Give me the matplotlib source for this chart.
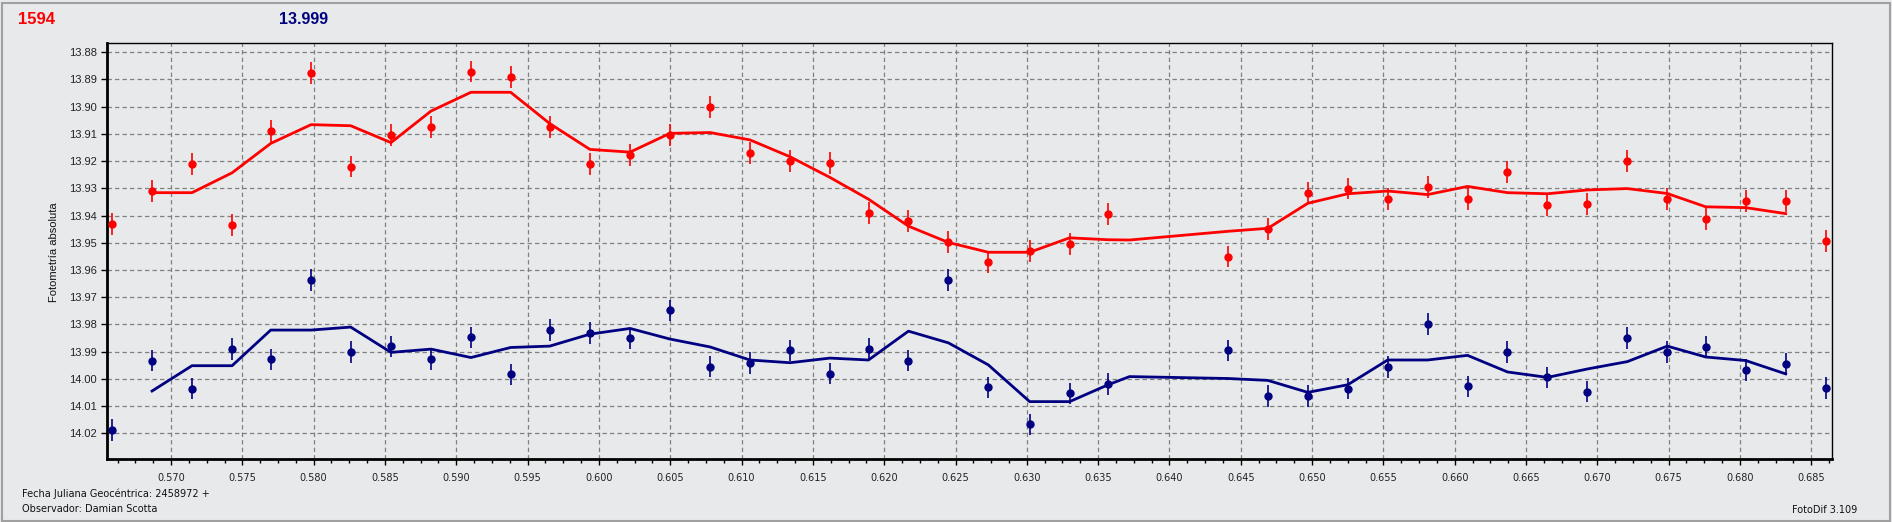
import numpy as np
import matplotlib
matplotlib.use("Agg")
import matplotlib.pyplot as plt
from matplotlib.ticker import MultipleLocator, FormatStrFormatter
from matplotlib.patches import Rectangle

# fechas (JD - 2458972) de cada punto
jd = [0.56584, 0.56867, 0.57147, 0.57428, 0.57699, 0.57982, 0.58260, 0.58542,
      0.58823, 0.59103, 0.59381, 0.59655, 0.59937, 0.60218, 0.60498, 0.60779,
      0.61059, 0.61340, 0.61620, 0.61890, 0.62170, 0.62450, 0.62730, 0.63020,
      0.63300, 0.63570, 0.64410, 0.64690, 0.64970, 0.65250, 0.65530, 0.65810,
      0.66090, 0.66370, 0.66650, 0.66930, 0.67210, 0.67490, 0.67760, 0.68040,
      0.68320, 0.68600]

# variable (rojo)
mag_var = [13.943, 13.931, 13.921, 13.9434, 13.9088, 13.8876, 13.922, 13.9104,
           13.9074, 13.8871, 13.889, 13.9076, 13.921, 13.9178, 13.9105, 13.900,
           13.9169, 13.9199, 13.9206, 13.939, 13.942, 13.9496, 13.957, 13.9531,
           13.9506, 13.9393, 13.9551, 13.9449, 13.9316, 13.9301, 13.9338, 13.9294,
           13.9338, 13.9239, 13.936, 13.9357, 13.9199, 13.9338, 13.9412, 13.9346,
           13.9346, 13.9493]

# comparacion (azul)
mag_cmp = [14.0188, 13.9933, 14.0036, 13.989, 13.9929, 13.9636, 13.9903, 13.9881,
           13.9929, 13.9848, 13.9984, 13.9822, 13.9833, 13.9852, 13.9749, 13.9955,
           13.9942, 13.9896, 13.9981, 13.9892, 13.9933, 13.9638, 14.0032, 14.0168,
           14.0054, 14.002, 13.9896, 14.0062, 14.0062, 14.0036, 13.9958, 13.980,
           14.0028, 13.9903, 13.9995, 14.0047, 13.9849, 13.9902, 13.9884, 13.9968,
           13.9946, 14.0035]

err_var = 0.004
err_cmp = 0.004

# curvas suavizadas
jd_smooth = [0.56867, 0.57147, 0.57428, 0.57699, 0.57982, 0.58260, 0.58542,
             0.58823, 0.59103, 0.59381, 0.59655, 0.59937, 0.60218, 0.60498,
             0.60779, 0.61059, 0.61340, 0.61620, 0.61890, 0.62170, 0.62450,
             0.62730, 0.63020, 0.63300, 0.63570, 0.63720, 0.64410, 0.64690,
             0.64970, 0.65250, 0.65530, 0.65810, 0.66090, 0.66370, 0.66650,
             0.66930, 0.67210, 0.67490, 0.67760, 0.68040, 0.68320]
smooth_var = [13.9316, 13.9316, 13.9243, 13.9135, 13.9066, 13.9070, 13.9132,
              13.9016, 13.8947, 13.8947, 13.9062, 13.9157, 13.9167, 13.9098,
              13.9095, 13.9122, 13.9184, 13.9260, 13.9340, 13.9439, 13.9499,
              13.9535, 13.9535, 13.9482, 13.9489, 13.9490, 13.9458, 13.9447,
              13.9355, 13.9320, 13.9310, 13.9323, 13.9293, 13.9316, 13.9320,
              13.9306, 13.9301, 13.9319, 13.9368, 13.9371, 13.9393]
smooth_cmp = [14.0045, 13.9952, 13.9952, 13.9821, 13.9821, 13.9810, 13.9903,
              13.9891, 13.9922, 13.9885, 13.9880, 13.9836, 13.9815, 13.9854,
              13.9883, 13.9931, 13.9941, 13.9924, 13.9931, 13.9825, 13.9868,
              13.9949, 14.0084, 14.0084, 14.0022, 13.9992, 13.9999, 14.0006,
              14.0050, 14.0022, 13.9931, 13.9931, 13.9914, 13.9975, 13.9995,
              13.9964, 13.9937, 13.9880, 13.9920, 13.9933, 13.9982]

bg = '#e8e9eb'
W, H = 1892, 522
fig = plt.figure(figsize=(W / 100, H / 100), dpi=100, facecolor=bg)
ax = fig.add_axes([106.7 / W, 1 - 459.3 / H, (1831.7 - 106.7) / W, (459.3 - 43.3) / H])
ax.set_facecolor(bg)

ax.errorbar(jd, mag_var, yerr=err_var, fmt='o', color='#ff0000', ms=5,
            elinewidth=1.2, capsize=0, zorder=3)
ax.plot(jd_smooth, smooth_var, color='#ff0000', lw=2, zorder=3)
ax.errorbar(jd, mag_cmp, yerr=err_cmp, fmt='o', color='#000080', ms=5,
            elinewidth=1.2, capsize=0, zorder=3)
ax.plot(jd_smooth, smooth_cmp, color='#000080', lw=2, zorder=3)

ax.set_xlim(0.56549, 0.68643)
ax.set_ylim(14.0296, 13.8767)

ax.xaxis.set_major_locator(MultipleLocator(0.005))
ax.xaxis.set_minor_locator(MultipleLocator(0.00125))
ax.xaxis.set_major_formatter(FormatStrFormatter('%.3f'))
ax.yaxis.set_major_locator(MultipleLocator(0.01))
ax.yaxis.set_major_formatter(FormatStrFormatter('%.2f'))

ax.set_axisbelow(True)
ax.xaxis.grid(True, which='major', color='#808080', lw=0.9, linestyle=(0, (3.5, 2.5)))
ax.yaxis.grid(True, which='major', color='#808080', lw=0.9, linestyle=(0, (3.5, 2.5)))

ax.tick_params(axis='x', which='major', length=4, width=1, pad=6,
               labelsize=7, labelcolor='#222222')
ax.tick_params(axis='x', which='minor', length=3, width=1)
ax.tick_params(axis='y', which='major', length=4, width=1, pad=3,
               labelsize=8, labelcolor='#222222')
for lab in ax.get_yticklabels():
    lab.set_family('Liberation Sans')

ax.spines['left'].set_linewidth(2)
ax.spines['bottom'].set_linewidth(2)
ax.spines['top'].set_linewidth(1)
ax.spines['right'].set_linewidth(1)

fig.text(54 / W, 1 - 252 / H, 'Fotometría absoluta', rotation=90, ha='center',
         va='center', fontsize=8, family='Liberation Sans', color='#111111')
fig.text(18 / W, 1 - 19 / H, '1594', color='#ff0000', fontsize=12,
         fontweight='bold', family='Liberation Sans', va='center')
fig.text(279 / W, 1 - 19 / H, '13.999', color='#000080', fontsize=11.5,
         fontweight='bold', family='Liberation Sans', va='center')
fig.text(22 / W, 1 - 494 / H, 'Fecha Juliana Geocéntrica: 2458972 +',
         fontsize=7, va='center', color='#111111')
fig.text(22 / W, 1 - 509 / H, 'Observador: Damian Scotta',
         fontsize=7, va='center', color='#111111')
fig.text(1857 / W, 1 - 510 / H, 'FotoDif 3.109', fontsize=7, ha='right',
         va='center', color='#111111')

fig.patches.append(Rectangle((1.5 / W, 1.5 / H), (W - 4) / W, (H - 4) / H,
                             transform=fig.transFigure, fill=False,
                             edgecolor='#a0a0a0', lw=1.5))

fig.savefig('out.png', dpi=100, facecolor=bg)
